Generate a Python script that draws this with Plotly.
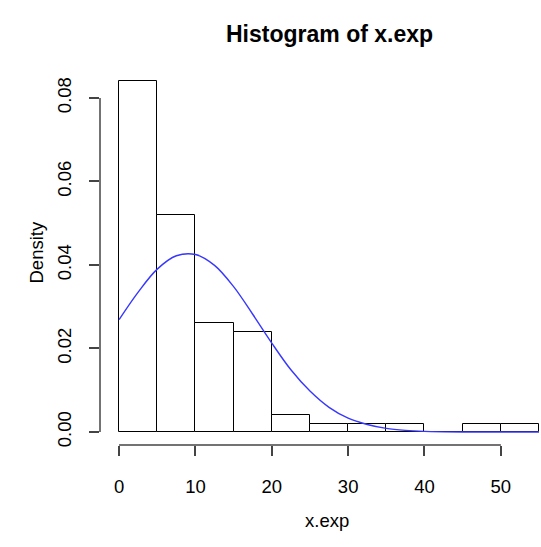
import plotly.graph_objects as go

# Histogram bins (breaks of width 5) and densities
bin_left = [0, 5, 10, 15, 20, 25, 30, 35, 40, 45, 50]
density = [0.084, 0.052, 0.026, 0.024, 0.004, 0.002, 0.002, 0.002, 0.0, 0.002, 0.002]
bin_width = 5

# Normal curve
curve_x = [0, 2.5, 5, 7.5, 10, 12.5, 15, 17.5, 20, 22.5, 25, 27.5, 30, 32.5, 35, 37.5, 40, 45, 50, 55]
curve_y = [0.0269, 0.0335, 0.0390, 0.0422, 0.0425, 0.0399, 0.0348, 0.0282, 0.0213, 0.0149,
           0.0098, 0.0059, 0.0033, 0.0018, 0.00086, 0.00039, 0.00016, 0.00002, 0.0, 0.0]

x_ticks = [0, 10, 20, 30, 40, 50]
y_ticks = [0.00, 0.02, 0.04, 0.06, 0.08]

FONT = "Liberation Sans, Arial, Helvetica, sans-serif"
W, H = 541, 547
L, R, T, B = 100, 0, 67, 102
PW, PH = W - L - R, H - T - B

fig = go.Figure()
fig.add_trace(go.Bar(
    x=[b + bin_width / 2 for b in bin_left], y=density, width=bin_width,
    marker=dict(color="white", line=dict(color="black", width=1)),
    hoverinfo="skip", showlegend=False,
))
fig.add_trace(go.Scatter(
    x=curve_x, y=curve_y, mode="lines",
    line=dict(color="rgb(55,55,255)", width=1.4, shape="spline"),
    showlegend=False,
))

# R-style axis lines (only between first and last tick)
fig.add_shape(type="line", xref="x", yref="paper", x0=x_ticks[0], x1=x_ticks[-1], y0=0, y1=0,
              line=dict(color="#444", width=1.5))
fig.add_shape(type="line", xref="paper", yref="y", x0=0, x1=0, y0=y_ticks[0], y1=y_ticks[-1],
              line=dict(color="#444", width=1.5))

fig.update_layout(
    width=W, height=H,
    margin=dict(l=L, r=R, t=T, b=B),
    plot_bgcolor="white", paper_bgcolor="white",
    font=dict(family=FONT, size=18.5, color="black"),
    bargap=0,
    xaxis=dict(range=[-2.5, 55.26], tickvals=x_ticks, ticks="outside", ticklen=10,
               tickcolor="#444", tickwidth=1.5, showgrid=False, zeroline=False, showline=False,
               ticklabelstandoff=15, tickfont=dict(size=18.5)),
    yaxis=dict(range=[-0.00311, 0.0874], tickvals=y_ticks, tickformat=".2f", ticks="outside",
               ticklen=10, tickcolor="#444", tickwidth=1.5, showgrid=False, zeroline=False,
               showline=False, tickangle=-90, ticklabelstandoff=11, tickfont=dict(size=18.5)),
    annotations=[
        dict(text="<b>Histogram of x.exp</b>", x=(329 - L) / PW, y=(H - 19 - B) / PH,
             xref="paper", yref="paper", showarrow=False, font=dict(size=23)),
        dict(text="x.exp", x=(327 - L) / PW, y=(H - 533 - B) / PH, xref="paper", yref="paper",
             showarrow=False, font=dict(size=18.5)),
        dict(text="Density", x=(23 - L) / PW, y=(H - 253 - B) / PH, xref="paper", yref="paper",
             textangle=-90, showarrow=False, font=dict(size=18.5)),
    ],
)

fig.write_html("out.html")
